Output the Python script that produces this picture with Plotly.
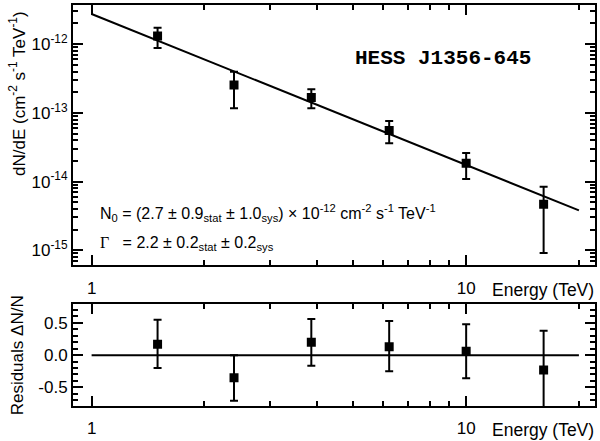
import plotly.graph_objects as go
from plotly.subplots import make_subplots

# Spectrum data points
energy = [1.50, 2.40, 3.86, 6.23, 10.0, 16.1]
flux = [1.32e-12, 2.55e-13, 1.68e-13, 5.55e-14, 1.84e-14, 4.68e-15]
flux_err_hi = [1.74e-12, 3.95e-13, 2.20e-13, 7.6e-14, 2.6e-14, 8.4e-15]
flux_err_lo = [8.8e-13, 1.17e-13, 1.17e-13, 3.6e-14, 1.09e-14, 9.1e-16]

# Power-law fit line endpoints
fit_energy = [1.0, 20.0]
fit_flux = [2.75e-12, 3.8e-15]

# Residuals
resid = [0.17, -0.35, 0.20, 0.13, 0.06, -0.23]
resid_hi = [0.55, 0.0, 0.56, 0.53, 0.48, 0.38]
resid_lo = [-0.20, -0.71, -0.165, -0.25, -0.36, -0.9]
zero_energy = [1.0, 20.0]
zero_line = [0.0, 0.0]

x_major = [1, 10]
x_major_text = ["1", "10"]
x_minor = [2, 3, 4, 5, 6, 7, 8, 9, 20]
y_major = [1e-12, 1e-13, 1e-14, 1e-15]
y_major_text = ["10<sup>-12</sup>", "10<sup>-13</sup>", "10<sup>-14</sup>", "10<sup>-15</sup>"]
y_minor = [m * 10.0 ** e for e in (-16, -15, -14, -13, -12) for m in range(2, 10)]
r_major = [-0.5, 0.0, 0.5]
r_major_text = ["-0.5", "0.0", "0.5"]
r_minor = [-0.7, -0.6, -0.4, -0.3, -0.2, -0.1, 0.1, 0.2, 0.3, 0.4, 0.6, 0.7]

FONT = "Liberation Sans, Arial, sans-serif"

fig = make_subplots(rows=2, cols=1, shared_xaxes=False, vertical_spacing=0.0)

fig.add_trace(go.Scatter(x=fit_energy, y=fit_flux, mode="lines",
                         line=dict(color="black", width=2), showlegend=False), row=1, col=1)
fig.add_trace(go.Scatter(
    x=energy, y=flux, mode="markers",
    marker=dict(symbol="square", size=9, color="black"),
    error_y=dict(type="data", symmetric=False,
                 array=[h - f for h, f in zip(flux_err_hi, flux)],
                 arrayminus=[f - l for f, l in zip(flux, flux_err_lo)],
                 color="black", thickness=2, width=4),
    showlegend=False), row=1, col=1)

fig.add_trace(go.Scatter(x=zero_energy, y=zero_line, mode="lines",
                         line=dict(color="black", width=2), showlegend=False), row=2, col=1)
fig.add_trace(go.Scatter(
    x=energy, y=resid, mode="markers",
    marker=dict(symbol="square", size=9, color="black"),
    error_y=dict(type="data", symmetric=False,
                 array=[h - r for h, r in zip(resid_hi, resid)],
                 arrayminus=[r - l for r, l in zip(resid, resid_lo)],
                 color="black", thickness=2, width=4),
    showlegend=False), row=2, col=1)

axis_common = dict(showline=True, linecolor="black", linewidth=2, mirror="ticks",
                   ticks="inside", ticklen=10, tickwidth=1.5, tickcolor="black",
                   showgrid=False, zeroline=False,
                   tickfont=dict(family=FONT, size=17, color="black"))
xr = [-0.0497, 1.344]
fig.update_xaxes(type="log", range=xr, tickmode="array", tickvals=x_major, ticktext=x_major_text,
                 ticklabelstandoff=6,
                 minor=dict(tickmode="array", tickvals=x_minor, ticks="inside", ticklen=5,
                            tickcolor="black", tickwidth=1.5, showgrid=False),
                 **axis_common)
fig.update_yaxes(type="log", range=[-15.22, -11.43], tickmode="array", tickvals=y_major,
                 ticktext=y_major_text,
                 minor=dict(tickmode="array", tickvals=y_minor, ticks="inside", ticklen=5,
                            tickcolor="black", tickwidth=1.5, showgrid=False),
                 domain=[0.3507, 1.0], row=1, col=1, **axis_common)
fig.update_yaxes(range=[-0.79, 0.79], tickmode="array", tickvals=r_major, ticktext=r_major_text,
                 minor=dict(tickmode="array", tickvals=r_minor, ticks="inside", ticklen=5,
                            tickcolor="black", tickwidth=1.5, showgrid=False),
                 domain=[0.0, 0.2537], row=2, col=1, **axis_common)

W, H = 600, 441
L, R, T, B = 73, 3, 4, 35
pw, ph = W - L - R, H - T - B


def px(xp):
    return (xp - L) / pw


def py(yp):
    return (H - B - yp) / ph


ann = [
    dict(x=px(17), y=py(93), text="dN/dE (cm<sup>-2</sup> s<sup>-1</sup> TeV<sup>-1</sup>)",
         textangle=-90, font=dict(family=FONT, size=17)),
    dict(x=px(17), y=py(355), text="Residuals ΔN/N", textangle=-90,
         font=dict(family=FONT, size=17)),
    dict(x=px(545), y=py(290), text="Energy (TeV)", font=dict(family=FONT, size=17.5)),
    dict(x=px(545), y=py(430), text="Energy (TeV)", font=dict(family=FONT, size=17.5)),
    dict(x=px(444), y=py(58), text="<b>HESS J1356-645</b>",
         font=dict(family="Liberation Mono, Courier New, monospace", size=21)),
    dict(x=px(98), y=py(213), xanchor="left",
         text="N<sub>0</sub> = (2.7 ± 0.9<sub>stat</sub> ± 1.0<sub>sys</sub>) × 10<sup>-12</sup> cm<sup>-2</sup> s<sup>-1</sup> TeV<sup>-1</sup>",
         font=dict(family=FONT, size=16)),
    dict(x=px(98), y=py(243), xanchor="left",
         text="<span style=\"font-family:'Liberation Serif'\">Γ</span>   = 2.2 ± 0.2<sub>stat</sub> ± 0.2<sub>sys</sub>",
         font=dict(family=FONT, size=16)),
]
for a in ann:
    a.setdefault("xanchor", "center")
    a.update(xref="paper", yref="paper", showarrow=False, yanchor="middle")
    a["font"]["color"] = "black"
fig.update_layout(annotations=ann)

fig.update_layout(width=W, height=H, margin=dict(l=L, r=R, t=T, b=B),
                  plot_bgcolor="white", paper_bgcolor="white", showlegend=False)

fig.write_html("out.html", config={"displayModeBar": False},
               post_script="document.body.style.margin='0';document.body.style.overflow='hidden';")
